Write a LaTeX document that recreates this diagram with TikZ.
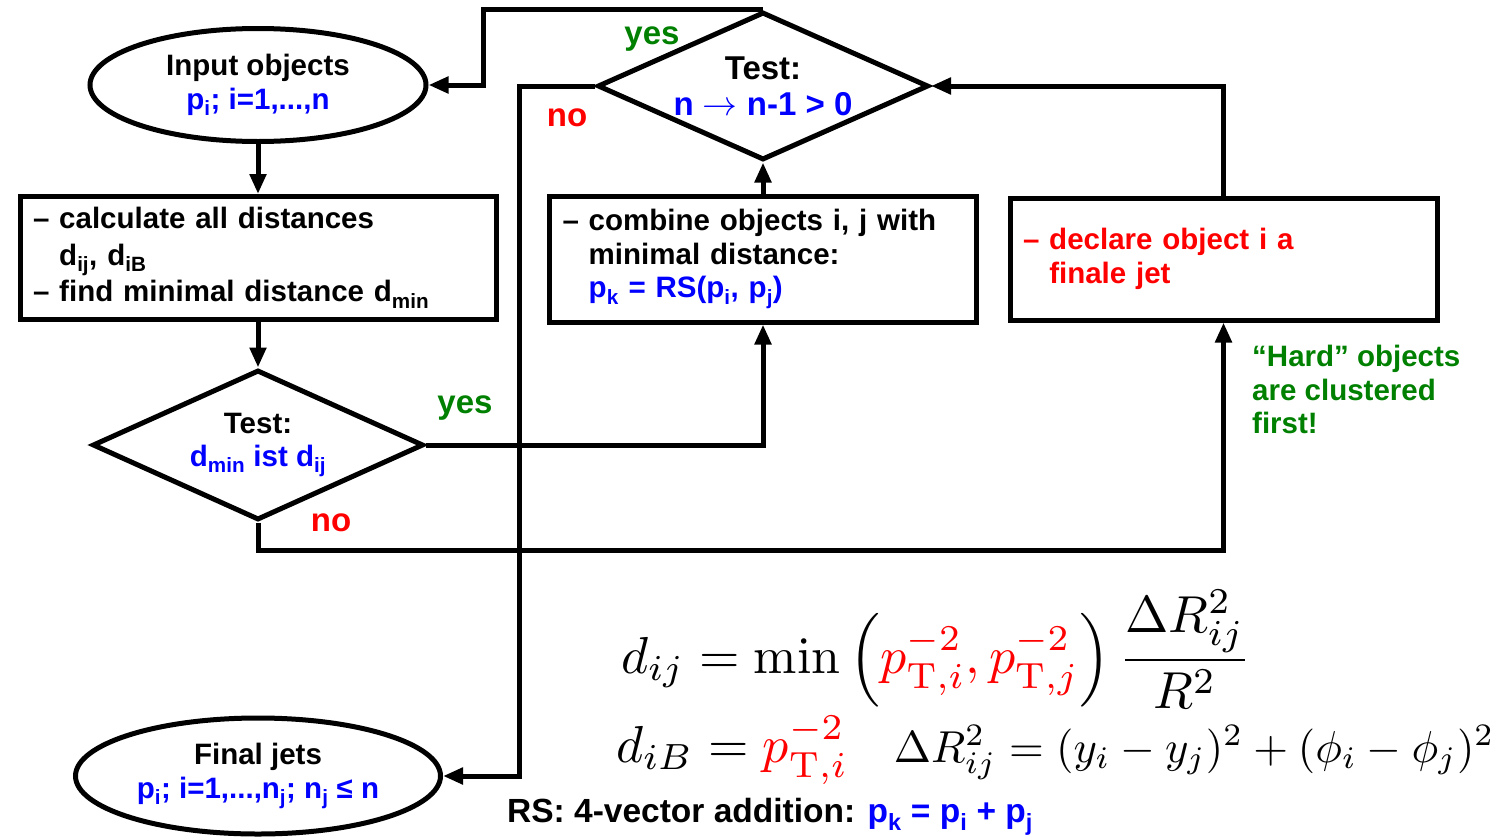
\documentclass[tikz,border=0pt]{standalone}
\usepackage[no-math]{fontspec}
\setmainfont{Liberation Sans}
\usepackage{amsmath}
\usetikzlibrary{arrows.meta, positioning, shapes.geometric}
\definecolor{jetblue}{RGB}{0, 0, 255}
\definecolor{jetred}{RGB}{255, 0, 0}
\definecolor{jetgreen}{RGB}{0, 128, 0}
\newcommand{\idx}[1]{\textsubscript{#1}}

\begin{document}
\begin{tikzpicture}[
    x=1pt, y=-1pt,
    every node/.style={font=\bfseries\fontsize{29.5}{33.5}\selectfont},
    box/.style={rectangle, draw, line width=5pt, inner xsep=13pt, align=left},
    oval/.style={ellipse, draw, line width=5pt, inner sep=0pt, align=center},
    test/.style={diamond, draw, aspect=2.2, line width=5pt, minimum width=331pt, minimum height=150pt, inner sep=0pt, align=center},
    arrow/.style={-{Triangle[length=20pt, width=16pt]}, line width=5pt},
    yeslabel/.style={text=jetgreen, font=\bfseries\fontsize{33}{36}\selectfont},
    nolabel/.style={text=jetred, font=\bfseries\fontsize{33}{36}\selectfont},
    formula/.style={anchor=base west, inner sep=0pt, scale=5.2, font=\normalfont\normalsize}
]
\useasboundingbox (0,0) rectangle (1506,838);

\node[oval, minimum width=336pt, minimum height=113pt] (input) at (258, 85) {Input objects\\\textcolor{jetblue}{p\idx{i}; i=1,...,n}};

\node[box, minimum width=476pt, minimum height=123pt, text width=450pt] (calc) at (258, 258) {– calculate all distances\\[3pt]\hphantom{– }d\idx{ij}, d\idx{iB}\\[3pt]– find minimal distance d\idx{min}};

\node[test] (dtest) at (258, 445) {Test:\\\textcolor{jetblue}{d\idx{min} ist d\idx{ij}}};

\node[box, minimum width=427pt, minimum height=126pt, text width=401pt] (combine) at (763, 259) {– combine objects i, j with\\\hphantom{– }minimal distance:\\\hphantom{– }\textcolor{jetblue}{p\idx{k} = RS(p\idx{i}, p\idx{j})}};

\node[test, minimum height=148pt, font=\bfseries\fontsize{33}{36}\selectfont] (ntest) at (763, 86) {Test:\\\textcolor{jetblue}{n \scalebox{1.4}{$\rightarrow$} n-1 > 0}};

\node[box, minimum width=427pt, minimum height=122pt, text width=401pt, text=jetred] (declare) at (1223.5, 259) {– declare object i a\\\hphantom{– }finale jet};

\node[oval, minimum width=365pt, minimum height=116pt] (final) at (258, 776) {Final jets\\\textcolor{jetblue}{p\idx{i}; i=1,...,n\idx{j}; n\idx{j} ≤ n}};

\node[anchor=north west, align=left, text=jetgreen, inner sep=0pt] (hard) at (1252, 345) {“Hard” objects\\are clustered\\first!};

% branch labels
\node[yeslabel] (yes1) at (652, 39) {yes};
\node[nolabel] (no1) at (567, 118) {no};
\node[yeslabel] (yes2) at (465, 408) {yes};
\node[nolabel] (no2) at (331, 523) {no};

% distance measures
\node[formula] (dij) at (620, 673) {$\displaystyle d_{ij} = \min\left(\textcolor{jetred}{p_{\mathrm{T},i}^{-2}, p_{\mathrm{T},j}^{-2}}\right)\frac{\Delta R_{ij}^2}{R^2}$};
\node[formula] (diB) at (615, 762) {$d_{iB} = \textcolor{jetred}{p_{\mathrm{T},i}^{-2}}$};
\node[formula, scale=0.86] (dR) at (893, 762) {$\Delta R_{ij}^2 = (y_i - y_j)^2 + (\phi_i - \phi_j)^2$};

\node[anchor=west, font=\bfseries\fontsize{33.5}{36}\selectfont, inner sep=0pt] (rs) at (507, 817) {RS: 4-vector addition: \textcolor{jetblue}{p\idx{k} = p\idx{i} + p\idx{j}}};

\draw[arrow] (input) -- (calc);
\draw[arrow] (calc) -- (dtest);
\draw[arrow] (dtest.east) -| (combine.south);
\draw[arrow] (dtest.south) -- ++(0,28) -| (declare.south);
\draw[arrow] (combine) -- (ntest);
\draw[arrow] (declare.north) |- (ntest.east);
\draw[arrow] (ntest.north) -- ++(-280,0) |- (input.east);
\draw[arrow] (ntest.west) -- ++(-76,0) |- (final.east);
\end{tikzpicture}
\end{document}
